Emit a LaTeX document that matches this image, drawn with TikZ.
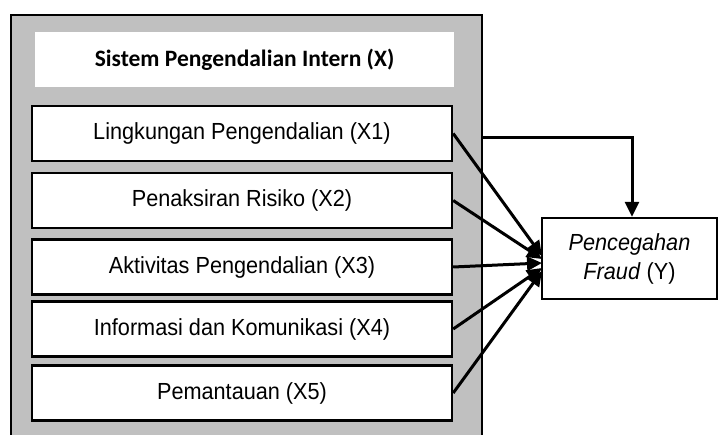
\documentclass[tikz,border=0pt]{standalone}
\usepackage{fontspec}
\setmainfont[FakeStretch=0.93]{Liberation Sans}
\newfontfamily\titlefont{Carlito}
\usetikzlibrary{arrows.meta}
\definecolor{panelgray}{RGB}{192,192,192}
\begin{document}
\begin{tikzpicture}[x=1pt,y=-1pt,
  xbox/.style={draw=black,line width=2.4pt,fill=white,minimum width=420pt,minimum height=55pt,inner sep=0pt,
    font=\fontsize{23.3}{26}\selectfont},
  ybox/.style={draw=black,line width=2.4pt,fill=white,minimum width=175pt,minimum height=81pt,inner sep=0pt,align=center,
    font=\fontsize{23.3}{29}\selectfont},
  conn/.style={line width=3pt,-{Triangle[length=15pt,width=14pt]}}]
\useasboundingbox (0,0) rectangle (719,435);
\begin{scope}
\clip (0,0) rectangle (719,435);
\fill[panelgray] (11,15) rectangle (482,445);
\draw[line width=1.8pt] (11,445) -- (11,15) -- (482,15) -- (482,445);
\end{scope}
\coordinate (outerE) at (482,138);
\node[fill=white,minimum width=419pt,minimum height=55pt,inner sep=0pt,font=\titlefont\bfseries\fontsize{23.5}{28}\selectfont] (T) at (244.5,59.5) {Sistem Pengendalian Intern (X)};
\node[xbox] (X1) at (242,133.5) {Lingkungan Pengendalian (X1)};
\node[xbox] (X2) at (242,200.5) {Penaksiran Risiko (X2)};
\node[xbox] (X3) at (242,267) {Aktivitas Pengendalian (X3)};
\node[xbox] (X4) at (242,329) {Informasi dan Komunikasi (X4)};
\node[xbox] (X5) at (242,393) {Pemantauan (X5)};
\node[ybox] (Y) at (629.5,258.5) {\itshape Pencegahan\\\textit{Fraud} (Y)};
\coordinate (t1) at (542,256);
\coordinate (t2) at (542,259);
\coordinate (t3) at (542,263);
\coordinate (t4) at (542,268);
\coordinate (t5) at (542,271);
\coordinate (bend) at (632,138);
\draw[conn] (X1.east) -- (t1);
\draw[conn] (X2.east) -- (t2);
\draw[conn] (X3.east) -- (t3);
\draw[conn] (X4.east) -- (t4);
\draw[conn] (X5.east) -- (t5);
\draw[conn] (outerE) -- (bend) -- (Y.north -| bend);
\end{tikzpicture}
\end{document}
